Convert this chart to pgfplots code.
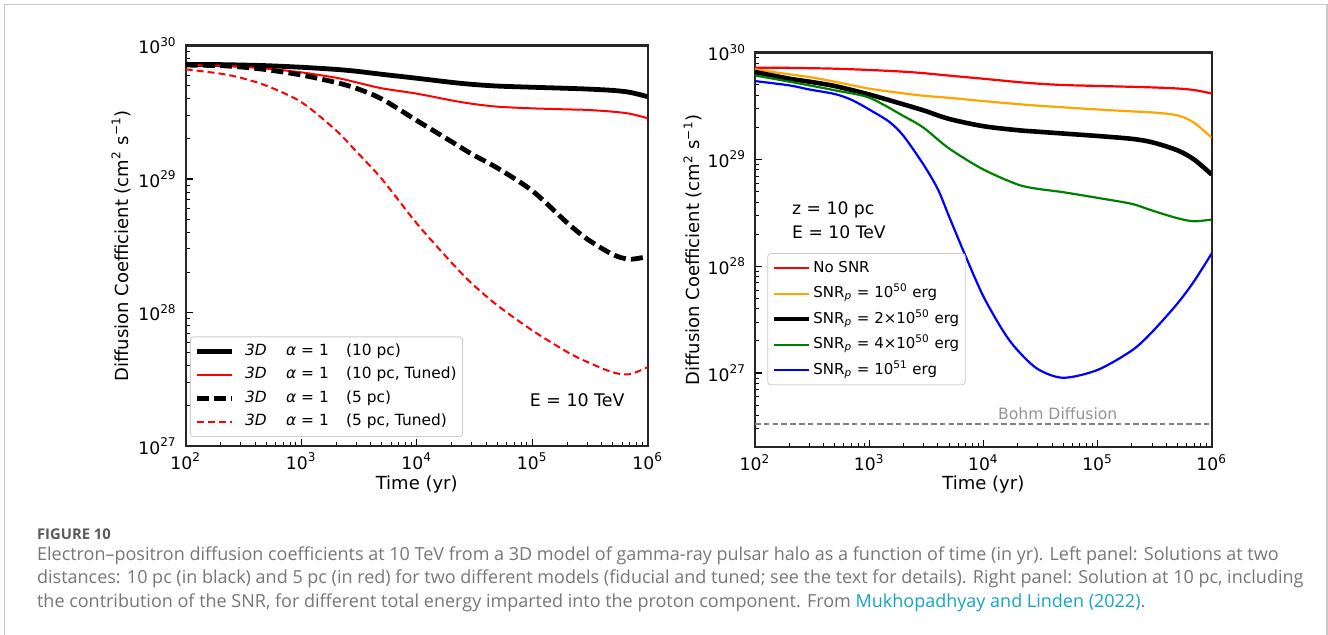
\documentclass[border=0pt]{standalone}
\usepackage{fontspec}
\setmainfont{DejaVu Sans}
\newfontfamily\capfont{Open Sans}
\usepackage{pgfplots}
\pgfplotsset{compat=1.18}

\definecolor{mplorange}{RGB}{255,165,0}
\definecolor{mplgreen}{RGB}{0,128,0}
\definecolor{capgray}{RGB}{118,118,118}
\definecolor{figgray}{RGB}{90,90,90}
\definecolor{linkcyan}{RGB}{20,165,195}
\definecolor{framegray}{RGB}{200,200,200}

\newcommand\tp[1]{10\textsuperscript{#1}}
\newcommand\leg[2]{\makebox[20.5pt][l]{\textit{3D}}\makebox[30pt][l]{\textit{α} = 1}(#1#2)}

\begin{document}
\begin{tikzpicture}
\useasboundingbox (0,0) rectangle (664pt,-317pt);
\draw[framegray, line width=0.7pt] (2.2pt,-318pt) -- (2.2pt,-2.2pt) -- (663.4pt,-2.2pt) -- (663.4pt,-318pt);

% left panel
\begin{axis}[at={(92.85pt,-22.85pt)}, anchor=north west,
  xmode=log, ymode=log, scale only axis,
  width=231pt, height=200.15pt,
  xmin=1e2, xmax=1e6, ymin=1e27, ymax=1e30,
  tick pos=left, tick align=inside,
  major tick length=3.5pt, minor tick length=2pt,
  major tick style={black, line width=0.6pt},
  minor tick style={black, line width=0.45pt},
  axis line style={line width=1.2pt, black!85},
  xtick={1e2,1e3,1e4,1e5,1e6},
  xticklabels={\tp{2},\tp{3},\tp{4},\tp{5},\tp{6}},
  minor xtick={2e2,3e2,4e2,5e2,6e2,7e2,8e2,9e2,2e3,3e3,4e3,5e3,6e3,7e3,8e3,9e3,
    2e4,3e4,4e4,5e4,6e4,7e4,8e4,9e4,2e5,3e5,4e5,5e5,6e5,7e5,8e5,9e5},
  ytick={1e27,1e28,1e29,1e30},
  yticklabels={\tp{27},\tp{28},\tp{29},\tp{30}},
  minor ytick={2e27,3e27,4e27,5e27,6e27,7e27,8e27,9e27,2e28,3e28,4e28,5e28,6e28,7e28,8e28,9e28,
    2e29,3e29,4e29,5e29,6e29,7e29,8e29,9e29},
  tick label style={font=\fontsize{8.6}{10}\selectfont},
  yticklabel style={xshift=-1pt},
  xlabel={Time (yr)},
  ylabel={Diffusion Coefficient (cm\textsuperscript{2} s\textsuperscript{−1})},
  label style={font=\fontsize{9}{11}\selectfont},
  x label style={at={(axis description cs:0.5,-0.097)}, anchor=center},
  y label style={at={(axis description cs:-0.14,0.5)}, rotate=0, anchor=center},
  legend cell align=left,
  legend image code/.code={\draw[#1] (0pt,0pt) -- (17.5pt,0pt);},
  legend style={draw=black!20, fill=white, fill opacity=0.8, text opacity=1,
    rounded corners=1.5pt, inner xsep=2pt, inner ysep=2.5pt,
    font=\fontsize{7.7}{9}\selectfont,
    nodes={inner sep=1pt, text height=5.8pt, text depth=1.8pt},
    /tikz/every odd column/.append style={column sep=4.5pt},
    at={(0.0093,0.0225)}, anchor=south west, row sep=2.15pt},
]
\addplot[black, line width=2.4pt, smooth] coordinates {
  (1e2,7.24e29) (2e2,7.21e29) (3e2,7.16e29) (5e2,7.08e29) (1e3,6.89e29) (2e3,6.64e29)
  (3e3,6.43e29) (5e3,6.10e29) (1e4,5.70e29) (2e4,5.31e29) (3e4,5.13e29) (5e4,4.98e29)
  (1e5,4.88e29) (2e5,4.79e29) (3e5,4.73e29) (5e5,4.62e29) (7e5,4.47e29) (1e6,4.15e29)
};
\addlegendentry{\leg{10 pc}{}}
\addplot[red, line width=1pt, smooth] coordinates {
  (1e2,7.16e29) (2e2,7.08e29) (3e2,6.95e29) (5e2,6.73e29) (1e3,6.31e29) (2e3,5.75e29)
  (3e3,5.31e29) (5e3,4.79e29) (1e4,4.37e29) (2e4,3.89e29) (3e4,3.67e29) (5e4,3.49e29)
  (1e5,3.39e29) (2e5,3.33e29) (3e5,3.30e29) (5e5,3.20e29) (7e5,3.09e29) (1e6,2.86e29)
};
\addlegendentry{\leg{10 pc}{, Tuned}}
\addplot[black, line width=2.4pt, dash pattern=on 6pt off 2.6pt, smooth] coordinates {
  (1e2,7.16e29) (2e2,7.08e29) (3e2,6.92e29) (5e2,6.61e29) (1e3,6.03e29) (2e3,5.30e29)
  (3e3,4.79e29) (5e3,3.98e29) (1e4,2.75e29) (2e4,1.91e29) (3e4,1.54e29) (5e4,1.21e29)
  (1e5,8.18e28) (2e5,4.72e28) (3e5,3.55e28) (5e5,2.72e28) (7e5,2.51e28) (1e6,2.63e28)
};
\addlegendentry{\leg{5 pc}{}}
\addplot[red, line width=1pt, dash pattern=on 3.5pt off 2pt, smooth] coordinates {
  (1e2,6.65e29) (2e2,6.17e29) (3e2,5.74e29) (5e2,5.01e29) (1e3,3.78e29) (2e3,2.32e29)
  (3e3,1.61e29) (5e3,1.00e29) (1e4,4.66e28) (2e4,2.37e28) (3e4,1.65e28) (5e4,1.13e28)
  (1e5,7.35e27) (2e5,5.07e27) (3e5,4.26e27) (5e5,3.56e27) (7e5,3.45e27) (1e6,3.90e27)
};
\addlegendentry{\leg{5 pc}{, Tuned}}
\node[anchor=east, font=\fontsize{8.7}{10}\selectfont] at (rel axis cs:0.965,0.115) {E = 10 TeV};
\end{axis}

% right panel
\begin{axis}[at={(377.5pt,-26.35pt)}, anchor=north west,
  xmode=log, ymode=log, scale only axis,
  width=228.35pt, height=197.3pt,
  xmin=1e2, xmax=1e6, ymin=2.02e26, ymax=1e30,
  tick pos=left, tick align=inside,
  major tick length=3.5pt, minor tick length=2pt,
  major tick style={black, line width=0.6pt},
  minor tick style={black, line width=0.45pt},
  axis line style={line width=1.2pt, black!85},
  xtick={1e2,1e3,1e4,1e5,1e6},
  xticklabels={\tp{2},\tp{3},\tp{4},\tp{5},\tp{6}},
  minor xtick={2e2,3e2,4e2,5e2,6e2,7e2,8e2,9e2,2e3,3e3,4e3,5e3,6e3,7e3,8e3,9e3,
    2e4,3e4,4e4,5e4,6e4,7e4,8e4,9e4,2e5,3e5,4e5,5e5,6e5,7e5,8e5,9e5},
  ytick={1e27,1e28,1e29,1e30},
  yticklabels={\tp{27},\tp{28},\tp{29},\tp{30}},
  minor ytick={3e26,4e26,5e26,6e26,7e26,8e26,9e26,
    2e27,3e27,4e27,5e27,6e27,7e27,8e27,9e27,2e28,3e28,4e28,5e28,6e28,7e28,8e28,9e28,
    2e29,3e29,4e29,5e29,6e29,7e29,8e29,9e29},
  tick label style={font=\fontsize{8.6}{10}\selectfont},
  yticklabel style={xshift=-1pt},
  xlabel={Time (yr)},
  ylabel={Diffusion Coefficient (cm\textsuperscript{2} s\textsuperscript{−1})},
  label style={font=\fontsize{9}{11}\selectfont},
  x label style={at={(axis description cs:0.5,-0.0955)}, anchor=center},
  y label style={at={(axis description cs:-0.136,0.5)}, rotate=0, anchor=center},
  legend cell align=left,
  legend image code/.code={\draw[#1] (0pt,0pt) -- (17.5pt,0pt);},
  legend style={draw=black!20, fill=white, fill opacity=0.8, text opacity=1,
    rounded corners=1.5pt, inner xsep=2pt, inner ysep=2.5pt,
    font=\fontsize{7.5}{9}\selectfont,
    nodes={inner sep=1pt, text height=5.8pt, text depth=1.8pt},
    at={(0.027,0.492)}, anchor=north west, row sep=3.15pt},
]
\addplot[red, line width=1.1pt, smooth] coordinates {
  (1e2,7.24e29) (2e2,7.21e29) (3e2,7.16e29) (5e2,7.08e29) (1e3,6.89e29) (2e3,6.64e29)
  (3e3,6.43e29) (5e3,6.10e29) (1e4,5.70e29) (2e4,5.31e29) (3e4,5.13e29) (5e4,4.98e29)
  (1e5,4.88e29) (2e5,4.79e29) (3e5,4.73e29) (5e5,4.62e29) (7e5,4.47e29) (1e6,4.15e29)
};
\addlegendentry{No SNR}
\addplot[mplorange, line width=1.1pt, smooth] coordinates {
  (1e2,6.98e29) (2e2,6.27e29) (3e2,5.91e29) (5e2,5.35e29) (1e3,4.60e29) (2e3,4.16e29)
  (3e3,3.95e29) (5e3,3.78e29) (1e4,3.52e29) (2e4,3.30e29) (3e4,3.19e29) (5e4,3.08e29)
  (1e5,2.94e29) (2e5,2.82e29) (3e5,2.76e29) (5e5,2.59e29) (7e5,2.21e29) (1e6,1.60e29)
};
\addlegendentry{SNR\textsubscript{\textit{p}} = \tp{50} erg}
\addplot[black, line width=2.3pt, smooth] coordinates {
  (1e2,6.59e29) (2e2,5.70e29) (3e2,5.35e29) (5e2,4.87e29) (1e3,4.06e29) (2e3,3.28e29)
  (3e3,2.88e29) (5e3,2.40e29) (1e4,2.05e29) (2e4,1.88e29) (3e4,1.82e29) (5e4,1.75e29)
  (1e5,1.66e29) (2e5,1.56e29) (3e5,1.45e29) (5e5,1.22e29) (7e5,1.00e29) (1e6,7.23e28)
};
\addlegendentry{SNR\textsubscript{\textit{p}} = 2×\tp{50} erg}
\addplot[mplgreen, line width=1.1pt, smooth] coordinates {
  (1e2,6.13e29) (2e2,5.35e29) (3e2,4.94e29) (5e2,4.44e29) (1e3,3.79e29) (2e3,2.55e29)
  (3e3,1.98e29) (5e3,1.27e29) (1e4,8.06e28) (2e4,5.83e28) (3e4,5.31e28) (5e4,4.94e28)
  (1e5,4.37e28) (2e5,3.84e28) (3e5,3.33e28) (5e5,2.82e28) (7e5,2.64e28) (1e6,2.74e28)
};
\addlegendentry{SNR\textsubscript{\textit{p}} = 4×\tp{50} erg}
\addplot[blue, line width=1.1pt, smooth] coordinates {
  (1e2,5.42e29) (2e2,4.94e29) (3e2,4.52e29) (5e2,4.10e29) (7e2,3.62e29) (1e3,2.94e29)
  (1.5e3,2.25e29) (2e3,1.66e29) (3e3,8.91e28) (4e3,5.25e28) (5e3,2.94e28) (7e3,1.24e28)
  (1e4,5.23e27) (1.5e4,2.45e27) (2e4,1.63e27) (3e4,1.09e27) (5e4,9.04e26) (1e5,1.07e27)
  (2e5,1.63e27) (3e5,2.42e27) (5e5,4.47e27) (7e5,7.23e27) (1e6,1.32e28)
};
\addlegendentry{SNR\textsubscript{\textit{p}} = \tp{51} erg}
\addplot[gray, line width=0.75pt, dash pattern=on 2.8pt off 1.6pt, forget plot] coordinates {
  (1e2,3.35e26) (1e6,3.35e26)
};
\node[text=gray!85, font=\fontsize{7.8}{9}\selectfont] at (rel axis cs:0.663,0.086) {Bohm Diffusion};
\node[anchor=west, font=\fontsize{8.6}{10}\selectfont] at (rel axis cs:0.066,0.601) {z = 10 pc};
\node[anchor=west, font=\fontsize{8.6}{10}\selectfont] at (rel axis cs:0.066,0.544) {E = 10 TeV};
\end{axis}

% caption
\node[anchor=base west, inner sep=0pt, text=figgray, font=\capfont\bfseries\fontsize{7.4}{9}\selectfont]
  at (18.35pt,-269.5pt) {FIGURE 10};
\begin{scope}[every node/.style={anchor=base west, inner sep=0pt, text=capgray, font=\capfont\fontsize{9}{11}\selectfont}]
\node at (18.35pt,-280.15pt) {Electron–positron diffusion coefficients at 10 TeV from a 3D model of gamma-ray pulsar halo as a function of time (in yr). Left panel: Solutions at two};
\node at (18.35pt,-291.9pt) {distances: 10 pc (in black) and 5 pc (in red) for two different models (fiducial and tuned; see the text for details). Right panel: Solution at 10 pc, including};
\node at (18.35pt,-303.65pt) {the contribution of the SNR, for different total energy imparted into the proton component. From \textcolor{linkcyan}{Mukhopadhyay and Linden (2022)}.};
\end{scope}
\end{tikzpicture}
\end{document}
